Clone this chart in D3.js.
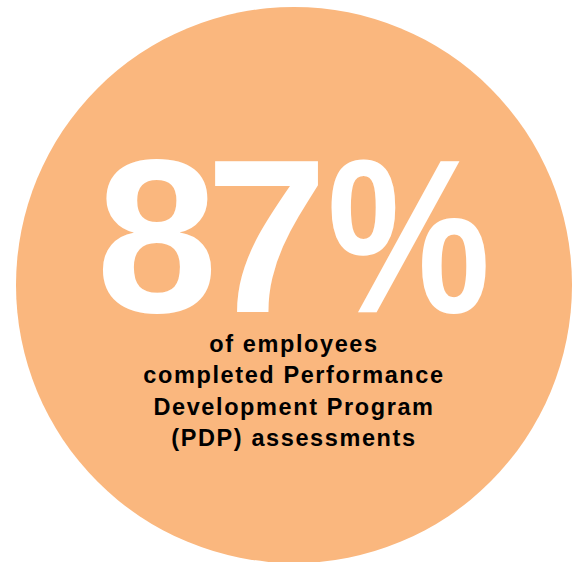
<!DOCTYPE html>
<html><head><meta charset="utf-8">
<script src="https://cdn.jsdelivr.net/npm/d3@7"></script>
<style>body{margin:0;background:#fff}svg{display:block}</style>
</head><body>
<script>
const percentValue = [87];
const labelLines = ["of employees", "completed Performance", "Development Program", "(PDP) assessments"];

const W = 576, H = 562;
const svg = d3.select("body").append("svg").attr("width", W).attr("height", H);
const cx = 294, cy = 285, R = 278;

svg.append("circle").attr("cx", cx).attr("cy", cy).attr("r", R).attr("fill", "#FAB77E");

const fmt = d3.format("d");
const big = svg.append("g")
  .attr("font-family", "Liberation Sans, Arial, sans-serif")
  .attr("font-weight", "bold")
  .attr("font-size", 219)
  .attr("fill", "#fff");

big.selectAll("text.num").data(percentValue).join("text")
  .attr("class", "num")
  .attr("x", 96).attr("y", 312)
  .attr("letter-spacing", -12)
  .text(d => fmt(d));

big.append("text")
  .attr("transform", "translate(327,312) scale(0.84,1)")
  .text("%");

const lineY = d3.scalePoint().domain(d3.range(labelLines.length)).range([352, 446]);
svg.selectAll("text.lbl").data(labelLines).join("text")
  .attr("class", "lbl")
  .attr("x", cx).attr("y", (d, i) => lineY(i))
  .attr("text-anchor", "middle")
  .attr("font-family", "Liberation Sans, Arial, sans-serif")
  .attr("font-weight", "bold")
  .attr("font-size", 23.5)
  .attr("letter-spacing", 1.6)
  .attr("fill", "#000")
  .text(d => d);
</script>
</body></html>
